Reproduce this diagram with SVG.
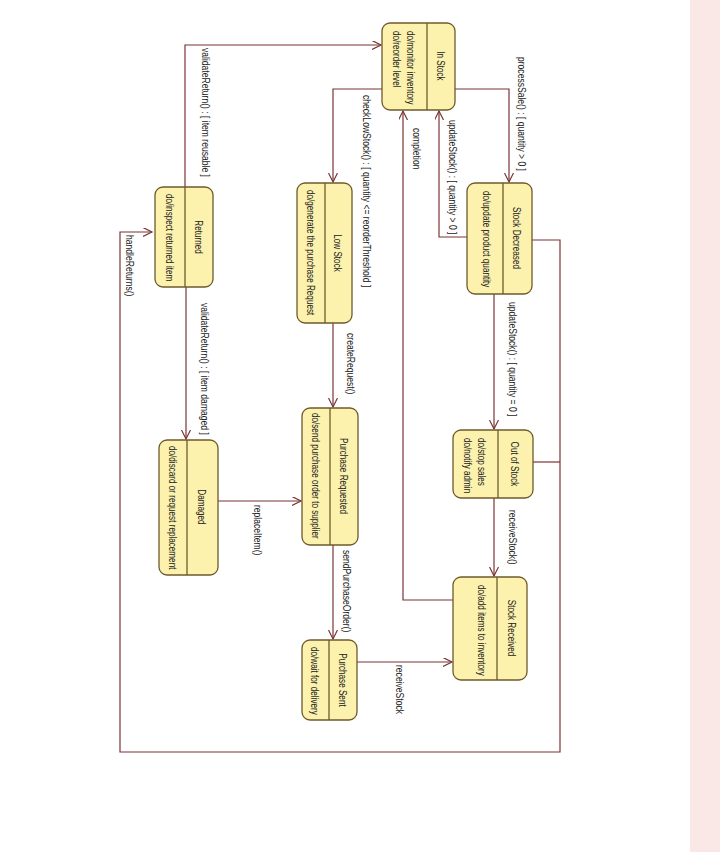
<svg xmlns="http://www.w3.org/2000/svg" width="720" height="852" viewBox="0 0 720 852">
  <style>
    .state rect.box { fill: #fcf2ae; stroke: #6e5a2c; stroke-width: 1.3; }
    .state line.div { stroke: #6e5a2c; stroke-width: 1.3; }
    .t { font-family: "Liberation Sans", Arial, sans-serif; font-size: 11.5px; fill: #222222; dominant-baseline: central; }
    .name { text-anchor: middle; }
    .edge { fill: none; stroke: #7a3434; stroke-width: 1.2; }
  </style>
  <defs>
    <marker id="open" markerUnits="userSpaceOnUse" markerWidth="12" markerHeight="10" refX="9" refY="4.5" orient="auto">
      <path d="M0,0 L9,4.5 L0,9" fill="none" stroke="#7a3434" stroke-width="1.2"/>
    </marker>
  </defs>

  <rect x="0" y="0" width="720" height="852" fill="#ffffff"/>
  <rect x="690" y="0" width="30" height="852" fill="#f9e8e6"/>

  <!-- transitions -->
  <g id="connectors">
    <path class="edge" d="M185,187 V45 H381" marker-end="url(#open)"/>
    <path class="edge" d="M382,89 H333 V182" marker-end="url(#open)"/>
    <path class="edge" d="M455,89 H509 V182" marker-end="url(#open)"/>
    <path class="edge" d="M467,237 H439 V111" marker-end="url(#open)"/>
    <path class="edge" d="M453,600 H403 V111" marker-end="url(#open)"/>
    <path class="edge" d="M494,294 V429" marker-end="url(#open)"/>
    <path class="edge" d="M494,498 V576" marker-end="url(#open)"/>
    <path class="edge" d="M333,323 V407" marker-end="url(#open)"/>
    <path class="edge" d="M333,545 V639" marker-end="url(#open)"/>
    <path class="edge" d="M357,662 H452" marker-end="url(#open)"/>
    <path class="edge" d="M218,501 H301" marker-end="url(#open)"/>
    <path class="edge" d="M186,287 V439" marker-end="url(#open)"/>
    <path class="edge" d="M532,240 H560 V752 H120 V232 H152" marker-end="url(#open)"/>
    <path class="edge" d="M533,462 H560"/>

    <text class="t" transform="translate(206,48) rotate(90) scale(0.746,1)">validateReturn() : [ item reusable ]</text>
    <text class="t" transform="translate(367,95) rotate(90) scale(0.746,1)">checkLowStock() : [ quantity &lt;= reorderThreshold ]</text>
    <text class="t" transform="translate(522,57) rotate(90) scale(0.746,1)">processSale() : [ quantity &gt; 0 ]</text>
    <text class="t" transform="translate(453,120) rotate(90) scale(0.746,1)">updateStock() : [ quantity &gt; 0 ]</text>
    <text class="t" transform="translate(417,128) rotate(90) scale(0.746,1)">completion</text>
    <text class="t" transform="translate(513,302) rotate(90) scale(0.746,1)">updateStock() : [ quantity = 0 ]</text>
    <text class="t" transform="translate(513,510) rotate(90) scale(0.746,1)">receiveStock()</text>
    <text class="t" transform="translate(351,333) rotate(90) scale(0.746,1)">createRequest()</text>
    <text class="t" transform="translate(347,550) rotate(90) scale(0.746,1)">sendPurchaseOrder()</text>
    <text class="t" transform="translate(400,665) rotate(90) scale(0.746,1)">receiveStock</text>
    <text class="t" transform="translate(258,505) rotate(90) scale(0.746,1)">replaceItem()</text>
    <text class="t" transform="translate(205,303) rotate(90) scale(0.746,1)">validateReturn() : [ item damaged ]</text>
    <text class="t" transform="translate(130,235) rotate(90) scale(0.746,1)">handleReturns()</text>
  </g>

  <!-- states -->
  <g id="in-stock" class="state">
    <rect class="box" x="382" y="23" width="73" height="87" rx="8"/>
    <line class="div" x1="427" y1="23" x2="427" y2="110"/>
    <text class="t name" transform="translate(441,66) rotate(90) scale(0.708,1)">In Stock</text>
    <text class="t" transform="translate(411,31) rotate(90) scale(0.708,1)">do/monitor inventory</text>
    <text class="t" transform="translate(397,31) rotate(90) scale(0.708,1)">do/reorder level</text>
  </g>

  <g id="stock-decreased" class="state">
    <rect class="box" x="467" y="183" width="65" height="111" rx="8"/>
    <line class="div" x1="503" y1="183" x2="503" y2="294"/>
    <text class="t name" transform="translate(517,238) rotate(90) scale(0.708,1)">Stock Decreased</text>
    <text class="t" transform="translate(487,191) rotate(90) scale(0.708,1)">do/update product quantity</text>
  </g>

  <g id="out-of-stock" class="state">
    <rect class="box" x="453" y="430" width="80" height="68" rx="8"/>
    <line class="div" x1="498" y1="430" x2="498" y2="498"/>
    <text class="t name" transform="translate(515,464) rotate(90) scale(0.708,1)">Out of Stock</text>
    <text class="t" transform="translate(482,438) rotate(90) scale(0.708,1)">do/stop sales</text>
    <text class="t" transform="translate(468,438) rotate(90) scale(0.708,1)">do/notify admin</text>
  </g>

  <g id="stock-received" class="state">
    <rect class="box" x="453" y="577" width="74" height="103" rx="8"/>
    <line class="div" x1="497" y1="577" x2="497" y2="680"/>
    <text class="t name" transform="translate(512,628) rotate(90) scale(0.708,1)">Stock Received</text>
    <text class="t" transform="translate(482,585) rotate(90) scale(0.708,1)">do/add items to inventory</text>
  </g>

  <g id="low-stock" class="state">
    <rect class="box" x="297" y="183" width="55" height="140" rx="8"/>
    <line class="div" x1="325" y1="183" x2="325" y2="323"/>
    <text class="t name" transform="translate(338,253) rotate(90) scale(0.708,1)">Low Stock</text>
    <text class="t" transform="translate(311,190) rotate(90) scale(0.708,1)">do/generate the purchase Request</text>
  </g>

  <g id="purchase-requested" class="state">
    <rect class="box" x="302" y="408" width="56" height="137" rx="8"/>
    <line class="div" x1="330" y1="408" x2="330" y2="545"/>
    <text class="t name" transform="translate(344,476) rotate(90) scale(0.708,1)">Purchase Requested</text>
    <text class="t" transform="translate(316,413) rotate(90) scale(0.708,1)">do/send purchase order to supplier</text>
  </g>

  <g id="purchase-sent" class="state">
    <rect class="box" x="302" y="640" width="55" height="80" rx="8"/>
    <line class="div" x1="329" y1="640" x2="329" y2="720"/>
    <text class="t name" transform="translate(343,680) rotate(90) scale(0.708,1)">Purchase Sent</text>
    <text class="t" transform="translate(315,647) rotate(90) scale(0.708,1)">do/wait for delivery</text>
  </g>

  <g id="returned" class="state">
    <rect class="box" x="155" y="187" width="58" height="100" rx="8"/>
    <line class="div" x1="185" y1="187" x2="185" y2="287"/>
    <text class="t name" transform="translate(199,237) rotate(90) scale(0.708,1)">Returned</text>
    <text class="t" transform="translate(170,194) rotate(90) scale(0.708,1)">do/inspect returned item</text>
  </g>

  <g id="damaged" class="state">
    <rect class="box" x="159" y="440" width="59" height="135" rx="8"/>
    <line class="div" x1="187" y1="440" x2="187" y2="575"/>
    <text class="t name" transform="translate(202,507) rotate(90) scale(0.708,1)">Damaged</text>
    <text class="t" transform="translate(173,446) rotate(90) scale(0.708,1)">do/discard or request replacement</text>
  </g>
</svg>
